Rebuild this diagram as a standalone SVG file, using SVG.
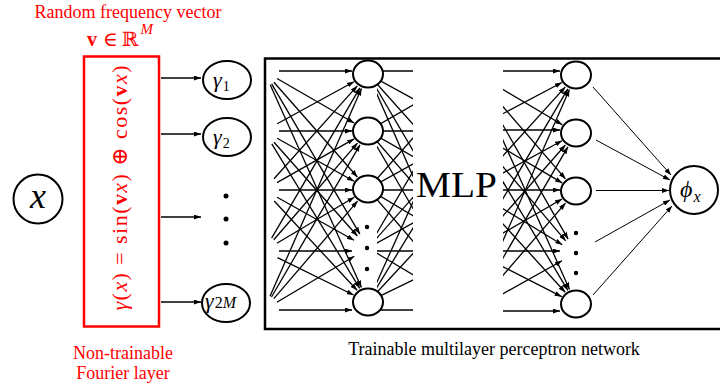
<svg xmlns="http://www.w3.org/2000/svg" width="720" height="387" viewBox="0 0 720 387">
  <style>
    .serif { font-family: "Liberation Serif", "DejaVu Serif", serif; }
    .red { fill: #ff0000; }
    .it { font-style: italic; }
    .bf { font-weight: bold; }
    .node { fill: #ffffff; stroke: #000000; stroke-width: 2; }
    .edge { stroke: #000000; stroke-width: 1.3; fill: none; }
    .arr { marker-end: url(#head); }
    .thin { stroke-width: 1; }
    .dot { fill: #000000; }
  </style>
  <defs>
    <marker id="head" viewBox="0 0 7 5" refX="7" refY="2.5" markerWidth="7" markerHeight="5" markerUnits="userSpaceOnUse" orient="auto">
      <path d="M0,0 L7,2.5 L0,5 z" fill="#000000"/>
    </marker>
    <clipPath id="outClip"><rect x="377" y="50" width="36" height="280"/></clipPath>
    <clipPath id="inClip"><rect x="503" y="50" width="100" height="280"/></clipPath>
  </defs>

  <rect width="720" height="387" fill="#ffffff"/>

  <!-- captions -->
  <text class="serif red" x="128" y="18" font-size="18" text-anchor="middle">Random frequency vector</text>
  <text class="serif red" x="87" y="46" font-size="20"><tspan class="bf">v</tspan><tspan dx="6">∈</tspan><tspan dx="4">ℝ</tspan><tspan class="it" font-size="15" dx="2" dy="-12">M</tspan></text>
  <text class="serif red" x="123" y="359" font-size="18" text-anchor="middle">Non-trainable</text>
  <text class="serif red" x="123" y="379" font-size="18" text-anchor="middle">Fourier layer</text>
  <text class="serif" x="494" y="355" font-size="18" text-anchor="middle">Trainable multilayer perceptron network</text>
  <text class="serif" x="416" y="197" font-size="36" textLength="81" lengthAdjust="spacingAndGlyphs">MLP</text>

  <!-- trainable network frame -->
  <rect x="265" y="58.5" width="470" height="270.5" fill="none" stroke="#000000" stroke-width="2.5"/>

  <!-- connectors -->
  <g id="connectors">
    <!-- Fourier layer to features -->
    <g class="edge" stroke-width="1.6">
      <line class="arr" x1="161" y1="78" x2="201" y2="78"/>
      <line class="arr" x1="161" y1="134" x2="201" y2="134"/>
      <line class="arr" x1="161" y1="217" x2="201" y2="217"/>
      <line class="arr" x1="161" y1="302" x2="201" y2="302"/>
    </g>
    <!-- into first hidden layer -->
    <g class="edge">
      <line class="arr" x1="279" y1="71" x2="352" y2="71"/>
      <line class="arr" x1="279" y1="131" x2="352" y2="131"/>
      <line class="arr" x1="279" y1="190" x2="352" y2="190"/>
      <line class="arr" x1="279" y1="251" x2="352" y2="251"/>
      <line class="arr" x1="279" y1="310" x2="352" y2="310"/>
      <line class="arr" x1="277.0" y1="78.5" x2="354.1" y2="123.0"/>
      <line class="arr" x1="273.9" y1="82.3" x2="357.4" y2="177.0"/>
      <line class="arr" x1="271.6" y1="83.9" x2="359.9" y2="234.2"/>
      <line class="arr" x1="270.2" y1="84.7" x2="361.4" y2="287.4"/>
      <line class="arr" x1="277.2" y1="123.8" x2="354.0" y2="81.7"/>
      <line class="arr" x1="277.1" y1="138.3" x2="354.0" y2="181.2"/>
      <line class="arr" x1="274.0" y1="142.2" x2="357.4" y2="236.0"/>
      <line class="arr" x1="271.8" y1="143.8" x2="359.7" y2="288.3"/>
      <line class="arr" x1="274.0" y1="178.8" x2="357.3" y2="85.9"/>
      <line class="arr" x1="277.0" y1="182.6" x2="354.1" y2="138.9"/>
      <line class="arr" x1="277.1" y1="197.3" x2="354.0" y2="240.2"/>
      <line class="arr" x1="274.2" y1="201.0" x2="357.1" y2="290.3"/>
      <line class="arr" x1="271.6" y1="238.1" x2="359.9" y2="87.8"/>
      <line class="arr" x1="273.8" y1="239.7" x2="357.5" y2="143.1"/>
      <line class="arr" x1="276.9" y1="243.3" x2="354.3" y2="197.2"/>
      <line class="arr" x1="277.5" y1="257.6" x2="353.6" y2="295.0"/>
      <line class="arr" x1="270.0" y1="296.3" x2="361.5" y2="88.6"/>
      <line class="arr" x1="271.5" y1="297.0" x2="360.0" y2="144.8"/>
      <line class="arr" x1="273.8" y1="298.6" x2="357.6" y2="201.1"/>
      <line class="arr" x1="276.9" y1="302.3" x2="354.3" y2="256.2"/>
    </g>
    <!-- out of first hidden layer (cut by the MLP label) -->
    <g class="edge" clip-path="url(#outClip)">
      <line x1="368" y1="71" x2="472" y2="71"/>
      <line x1="368" y1="131" x2="472" y2="131"/>
      <line x1="368" y1="190" x2="472" y2="190"/>
      <line x1="368" y1="251" x2="472" y2="251"/>
      <line x1="368" y1="310" x2="472" y2="310"/>
      <line x1="368" y1="74" x2="472" y2="131"/>
      <line x1="368" y1="74" x2="472" y2="190"/>
      <line x1="368" y1="74" x2="472" y2="251"/>
      <line x1="368" y1="74" x2="472" y2="310"/>
      <line x1="368" y1="131" x2="472" y2="71"/>
      <line x1="368" y1="131" x2="472" y2="190"/>
      <line x1="368" y1="131" x2="472" y2="251"/>
      <line x1="368" y1="131" x2="472" y2="310"/>
      <line x1="368" y1="189" x2="472" y2="71"/>
      <line x1="368" y1="189" x2="472" y2="131"/>
      <line x1="368" y1="189" x2="472" y2="251"/>
      <line x1="368" y1="189" x2="472" y2="310"/>
      <line x1="368" y1="248" x2="472" y2="71"/>
      <line x1="368" y1="248" x2="472" y2="131"/>
      <line x1="368" y1="248" x2="472" y2="190"/>
      <line x1="368" y1="248" x2="472" y2="310"/>
      <line x1="368" y1="302" x2="472" y2="71"/>
      <line x1="368" y1="302" x2="472" y2="131"/>
      <line x1="368" y1="302" x2="472" y2="190"/>
      <line x1="368" y1="302" x2="472" y2="251"/>
    </g>
    <!-- into last hidden layer -->
    <g class="edge" clip-path="url(#inClip)">
      <line class="arr" x1="472" y1="71" x2="560" y2="71"/>
      <line class="arr" x1="472" y1="130" x2="560" y2="130"/>
      <line class="arr" x1="472" y1="190" x2="560" y2="190"/>
      <line class="arr" x1="472" y1="251" x2="560" y2="251"/>
      <line class="arr" x1="472" y1="311" x2="560" y2="311"/>
      <line class="arr" x1="472" y1="71" x2="562.3" y2="124.8"/>
      <line class="arr" x1="472" y1="71" x2="565.5" y2="178.9"/>
      <line class="arr" x1="472" y1="71" x2="568.1" y2="239.1"/>
      <line class="arr" x1="472" y1="71" x2="569.5" y2="289.4"/>
      <line class="arr" x1="472" y1="130" x2="561.9" y2="82.5"/>
      <line class="arr" x1="472" y1="130" x2="562.2" y2="182.9"/>
      <line class="arr" x1="472" y1="130" x2="565.7" y2="240.8"/>
      <line class="arr" x1="472" y1="130" x2="567.8" y2="290.3"/>
      <line class="arr" x1="472" y1="190" x2="565.3" y2="86.9"/>
      <line class="arr" x1="472" y1="190" x2="562.0" y2="140.7"/>
      <line class="arr" x1="472" y1="190" x2="562.3" y2="244.7"/>
      <line class="arr" x1="472" y1="190" x2="565.2" y2="292.2"/>
      <line class="arr" x1="472" y1="251" x2="567.9" y2="88.8"/>
      <line class="arr" x1="472" y1="251" x2="565.4" y2="145.0"/>
      <line class="arr" x1="472" y1="251" x2="562.1" y2="199.0"/>
      <line class="arr" x1="472" y1="251" x2="561.7" y2="296.7"/>
      <line class="arr" x1="472" y1="311" x2="569.5" y2="89.6"/>
      <line class="arr" x1="472" y1="311" x2="567.9" y2="146.8"/>
      <line class="arr" x1="472" y1="311" x2="565.5" y2="203.1"/>
      <line class="arr" x1="472" y1="311" x2="562.0" y2="260.8"/>
    </g>
    <!-- last hidden layer to output -->
    <g class="edge thin">
      <line class="arr" x1="593" y1="87" x2="671" y2="175"/>
      <line class="arr" x1="596" y1="140" x2="670" y2="180"/>
      <line class="arr" x1="596" y1="190.5" x2="669" y2="190.5"/>
      <line class="arr" x1="595" y1="242" x2="670" y2="200"/>
      <line class="arr" x1="593" y1="295" x2="672" y2="206"/>
    </g>
  </g>

  <!-- input -->
  <g id="input-x">
    <circle class="node" cx="38" cy="199" r="24.5"/>
    <text class="serif it" x="38" y="208" font-size="36" text-anchor="middle">x</text>
  </g>

  <!-- Fourier feature layer -->
  <g id="fourier-layer">
    <rect x="84" y="56.5" width="75" height="270" fill="none" stroke="#ff0000" stroke-width="2.5"/>
    <text class="serif red" transform="translate(127,188) rotate(-90)" font-size="22" text-anchor="middle" textLength="245"><tspan class="it">γ</tspan>(<tspan class="it">x</tspan>) = sin(<tspan class="bf">v</tspan><tspan class="it">x</tspan>) ⊕ cos(<tspan class="bf">v</tspan><tspan class="it">x</tspan>)</text>
  </g>

  <g id="gamma-1">
    <ellipse class="node" cx="227" cy="80" rx="24" ry="19"/>
    <text class="serif" x="213" y="87" font-size="22"><tspan class="it">γ</tspan><tspan font-size="14" dx="1" dy="4">1</tspan></text>
  </g>
  <g id="gamma-2">
    <ellipse class="node" cx="227" cy="137" rx="24" ry="19"/>
    <text class="serif" x="213" y="144" font-size="22"><tspan class="it">γ</tspan><tspan font-size="14" dx="1" dy="4">2</tspan></text>
  </g>
  <g id="gamma-dots">
    <circle class="dot" cx="226" cy="196" r="2.5"/>
    <circle class="dot" cx="226" cy="219" r="2.5"/>
    <circle class="dot" cx="226" cy="243" r="2.5"/>
  </g>
  <g id="gamma-2M">
    <ellipse class="node" cx="226" cy="303" rx="24" ry="19"/>
    <text class="serif" x="205" y="308" font-size="22"><tspan class="it">γ</tspan><tspan font-size="16" dx="1">2</tspan><tspan class="it" font-size="16">M</tspan></text>
  </g>

  <!-- first hidden layer -->
  <g id="h1-1"><ellipse class="node" cx="368" cy="74" rx="15" ry="13.5"/></g>
  <g id="h1-2"><ellipse class="node" cx="368" cy="131" rx="15" ry="13.5"/></g>
  <g id="h1-3"><ellipse class="node" cx="368" cy="189" rx="15" ry="13.5"/></g>
  <g id="h1-dots">
    <circle class="dot" cx="367" cy="227" r="2.2"/>
    <circle class="dot" cx="367" cy="248" r="2.2"/>
    <circle class="dot" cx="367" cy="269" r="2.2"/>
  </g>
  <g id="h1-n"><ellipse class="node" cx="368" cy="302" rx="15" ry="13.5"/></g>

  <!-- last hidden layer -->
  <g id="h2-1"><ellipse class="node" cx="576" cy="75" rx="15" ry="13.5"/></g>
  <g id="h2-2"><ellipse class="node" cx="576" cy="133" rx="15" ry="13.5"/></g>
  <g id="h2-3"><ellipse class="node" cx="576" cy="191" rx="15" ry="13.5"/></g>
  <g id="h2-dots">
    <circle class="dot" cx="576" cy="233" r="2.2"/>
    <circle class="dot" cx="576" cy="253" r="2.2"/>
    <circle class="dot" cx="576" cy="273" r="2.2"/>
  </g>
  <g id="h2-n"><ellipse class="node" cx="576" cy="304" rx="15" ry="13.5"/></g>

  <!-- output -->
  <g id="output-phi">
    <circle class="node" cx="694" cy="190" r="24"/>
    <text class="serif" x="680" y="197" font-size="24"><tspan class="it">ϕ</tspan><tspan class="it" font-size="16" dx="1" dy="5">x</tspan></text>
  </g>
</svg>
